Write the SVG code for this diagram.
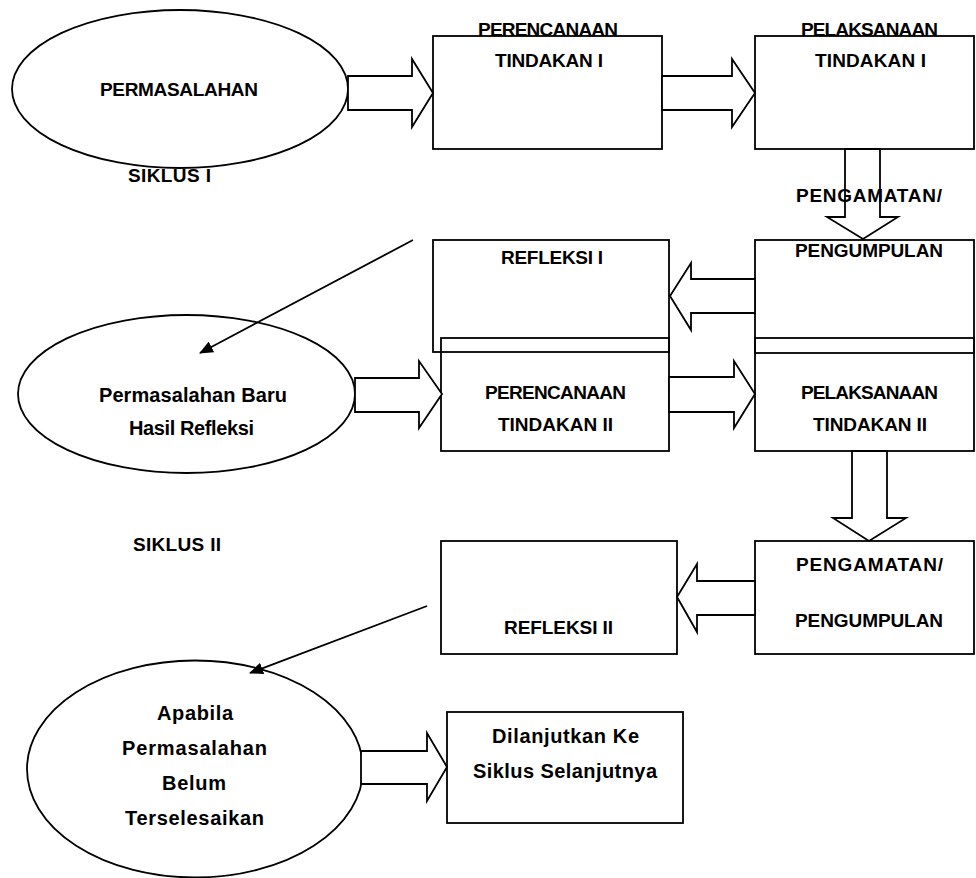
<svg xmlns="http://www.w3.org/2000/svg" width="976" height="878" viewBox="0 0 976 878">
<style>
  .shape { fill: #ffffff; stroke: #000000; stroke-width: 1.8; }
  .box { fill: none; stroke: #000000; stroke-width: 1.8; }
  .blk { fill: #ffffff; stroke: #000000; stroke-width: 1.8; stroke-linejoin: miter; }
  .ln { fill: none; stroke: #000000; stroke-width: 1.8; }
  text { font-family: "Liberation Sans", Arial, sans-serif; font-weight: bold; fill: #000000; }
  .cap { font-size: 19px; }
  .low { font-size: 20px; }
</style>
<defs>
  <marker id="tri" markerWidth="14" markerHeight="12" refX="13" refY="6" orient="auto" markerUnits="userSpaceOnUse">
    <path d="M0,0 L14,6 L0,12 Z" fill="#000000"/>
  </marker>
</defs>
<rect width="976" height="878" fill="#ffffff"/>

<text class="cap" x="128" y="182" textLength="83" lengthAdjust="spacing">SIKLUS I</text>
<text class="cap" x="133" y="551" textLength="88" lengthAdjust="spacing">SIKLUS II</text>

<g id="permasalahan">
  <ellipse class="shape" cx="180" cy="89" rx="168" ry="79"/>
  <text class="cap" x="100" y="96" textLength="158" lengthAdjust="spacing">PERMASALAHAN</text>
</g>

<g id="perencanaan1">
  <rect class="box" x="433" y="36" width="229" height="113"/>
  <text class="cap" x="478" y="36" textLength="140" lengthAdjust="spacing">PERENCANAAN</text>
  <text class="cap" x="495" y="67" textLength="108" lengthAdjust="spacing">TINDAKAN I</text>
</g>

<g id="pelaksanaan1">
  <rect class="box" x="755" y="36" width="219" height="113"/>
  <text class="cap" x="801" y="36" textLength="137" lengthAdjust="spacing">PELAKSANAAN</text>
  <text class="cap" x="815" y="67" textLength="111" lengthAdjust="spacing">TINDAKAN I</text>
</g>

<g id="pengamatan1">
  <rect class="box" x="755" y="240" width="219" height="113"/>
  <text class="cap" x="795" y="257" textLength="148" lengthAdjust="spacing">PENGUMPULAN</text>
</g>

<g id="refleksi1">
  <rect class="box" x="433" y="240" width="236" height="112"/>
  <text class="cap" x="501" y="264" textLength="102" lengthAdjust="spacing">REFLEKSI I</text>
</g>

<g id="permasalahan-baru">
  <ellipse class="shape" cx="186.5" cy="394" rx="168.5" ry="79"/>
  <text class="low" x="99" y="402" textLength="188" lengthAdjust="spacing">Permasalahan Baru</text>
  <text class="low" x="129" y="435" textLength="125" lengthAdjust="spacing">Hasil Refleksi</text>
</g>

<g id="perencanaan2">
  <rect class="box" x="441" y="338" width="228" height="113"/>
  <text class="cap" x="485" y="399" textLength="141" lengthAdjust="spacing">PERENCANAAN</text>
  <text class="cap" x="498" y="431" textLength="115" lengthAdjust="spacing">TINDAKAN II</text>
</g>

<g id="pelaksanaan2">
  <rect class="box" x="755" y="338" width="219" height="113"/>
  <text class="cap" x="801" y="399" textLength="137" lengthAdjust="spacing">PELAKSANAAN</text>
  <text class="cap" x="813" y="431" textLength="114" lengthAdjust="spacing">TINDAKAN II</text>
</g>

<g id="pengamatan2">
  <rect class="box" x="755" y="541" width="219" height="113"/>
  <text class="cap" x="796" y="571" textLength="147" lengthAdjust="spacing">PENGAMATAN/</text>
  <text class="cap" x="795" y="627" textLength="148" lengthAdjust="spacing">PENGUMPULAN</text>
</g>

<g id="refleksi2">
  <rect class="box" x="441" y="541" width="236" height="113"/>
  <text class="cap" x="504" y="634" textLength="109" lengthAdjust="spacing">REFLEKSI II</text>
</g>

<g id="apabila">
  <ellipse class="shape" cx="195" cy="769" rx="168" ry="108.5"/>
  <text class="low" x="157" y="720" textLength="76" lengthAdjust="spacing">Apabila</text>
  <text class="low" x="122" y="755" textLength="145" lengthAdjust="spacing">Permasalahan</text>
  <text class="low" x="162" y="790" textLength="64" lengthAdjust="spacing">Belum</text>
  <text class="low" x="125" y="825" textLength="139" lengthAdjust="spacing">Terselesaikan</text>
</g>

<g id="dilanjutkan">
  <rect class="box" x="447" y="712" width="236" height="111"/>
  <text class="low" x="492" y="743" textLength="147" lengthAdjust="spacing">Dilanjutkan Ke</text>
  <text class="low" x="473" y="778" textLength="184" lengthAdjust="spacing">Siklus Selanjutnya</text>
</g>

<g id="connectors">
  <polygon class="blk" points="348,76 412,76 412,59 433,93 412,127 412,110 348,110"/>
  <polygon class="blk" points="662,76 732,76 732,59 755,93 732,127 732,110 662,110"/>
  <polygon class="blk" points="845,149 880,149 880,217 898,217 863,239 827,217 845,217"/>
  <polygon class="blk" points="755,279 691,279 691,263 670,296 691,330 691,313 755,313"/>
  <polygon class="blk" points="355,378 419,378 419,361 442,394 419,428 419,412 355,412"/>
  <polygon class="blk" points="669,377 734,377 734,361 755,394 734,428 734,412 669,412"/>
  <polygon class="blk" points="852,451 887,451 887,518 906,518 869,541 833,518 852,518"/>
  <polygon class="blk" points="755,581 697,581 697,564 677,597 697,632 697,615 755,615"/>
  <polygon class="blk" points="361,751 427,751 427,733 447,767 427,801 427,784 361,784"/>
  <line class="ln" x1="413" y1="240" x2="200" y2="353" marker-end="url(#tri)"/>
  <line class="ln" x1="427" y1="606" x2="250" y2="673" marker-end="url(#tri)"/>
</g>
<text class="cap" x="796" y="202" textLength="146" lengthAdjust="spacing">PENGAMATAN/</text>
</svg>
